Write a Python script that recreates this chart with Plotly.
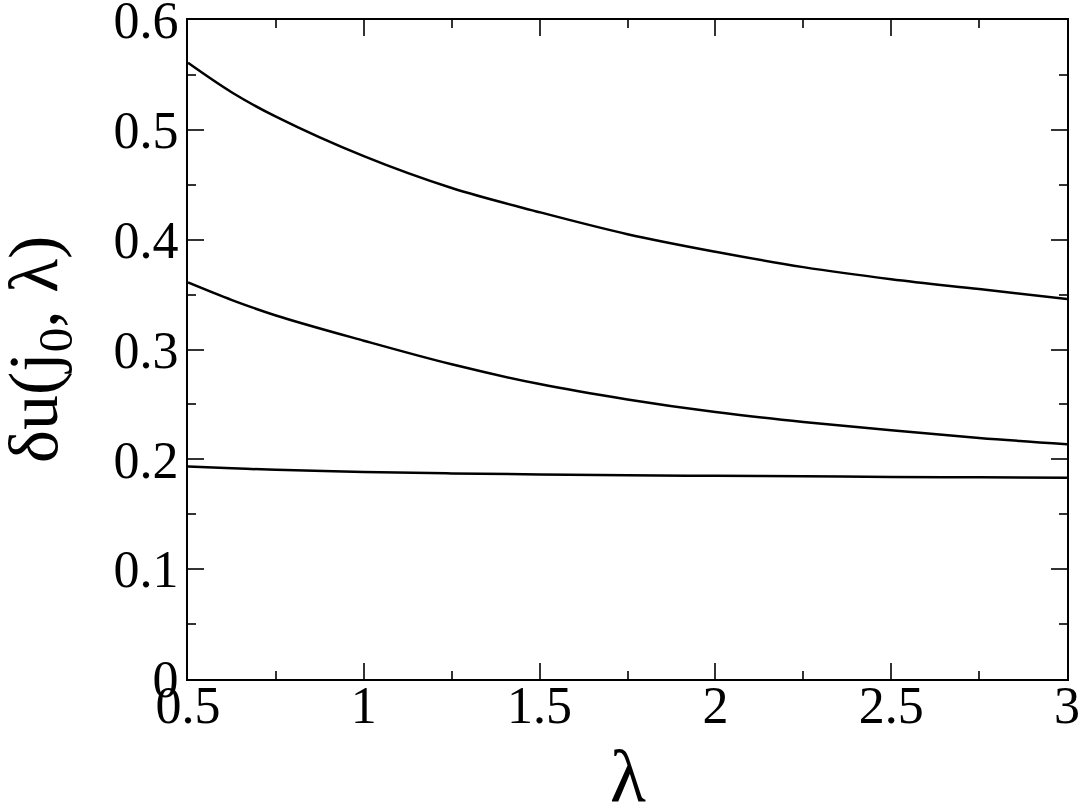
import plotly.graph_objects as go

# lambda grid and the three curves
lam = [0.5, 0.625, 0.75, 1.0, 1.25, 1.5, 1.75, 2.0, 2.25, 2.5, 2.75, 3.0]
du_top = [0.561, 0.534, 0.512, 0.476, 0.447, 0.425, 0.405, 0.389, 0.375, 0.364, 0.355, 0.346]
du_mid = [0.361, 0.345, 0.331, 0.308, 0.2865, 0.2685, 0.2545, 0.243, 0.234, 0.2265, 0.2195, 0.2137]
du_low = [0.1934, 0.1918, 0.1905, 0.1885, 0.1872, 0.1862, 0.1855, 0.1850, 0.1845, 0.1840, 0.1836, 0.1832]

x_ticks = [0.5, 1, 1.5, 2, 2.5, 3]
x_ticklabels = ["0.5", "1", "1.5", "2", "2.5", "3"]
y_ticks = [0, 0.1, 0.2, 0.3, 0.4, 0.5, 0.6]
y_ticklabels = ["0", "0.1", "0.2", "0.3", "0.4", "0.5", "0.6"]

font_family = "Liberation Serif, Times New Roman, serif"

fig = go.Figure()
for ys in (du_top, du_mid, du_low):
    fig.add_trace(go.Scatter(
        x=lam, y=ys, mode="lines", line_shape="spline",
        line=dict(color="black", width=2.5), showlegend=False,
    ))

axis_style = dict(
    showgrid=False, zeroline=False, automargin=False,
    showline=True, linecolor="black", linewidth=2, mirror="ticks",
    ticks="inside", ticklen=16, tickwidth=2, tickcolor="#333",
    tickfont=dict(family=font_family, size=52, color="black"),
    ticklabeloverflow="allow",
)

fig.update_xaxes(
    range=[0.5, 3], tickvals=x_ticks, ticktext=x_ticklabels,
    minor=dict(dtick=0.25, ticks="inside", ticklen=8, tickwidth=2, tickcolor="#333"),
    ticklabelstandoff=-20,
    **axis_style,
)
fig.update_yaxes(
    range=[0, 0.6], tickvals=y_ticks, ticktext=y_ticklabels,
    minor=dict(dtick=0.05, ticks="inside", ticklen=8, tickwidth=2, tickcolor="#333"),
    ticklabelstandoff=-3,
    **axis_style,
)

# axis titles placed as annotations so they sit where the reference has them
fig.add_annotation(
    text="λ", xref="paper", yref="paper", x=0.5, y=-0.147,
    xanchor="center", yanchor="middle", showarrow=False,
    font=dict(family=font_family, size=74, color="black"),
)
fig.add_annotation(
    text="δu(j<sub>0</sub>, λ)", xref="paper", yref="paper", x=-0.170, y=0.5,
    xanchor="center", yanchor="middle", textangle=-90, showarrow=False,
    font=dict(family=font_family, size=70, color="black"),
)

fig.update_layout(
    width=1081, height=806,
    margin=dict(l=188, r=14, t=20, b=127),
    paper_bgcolor="white", plot_bgcolor="white",
    font=dict(family=font_family, color="black"),
)

# drop the default page margin so the figure sits at the window's corner
fig.write_html(
    "out.html",
    config={"displayModeBar": False},
    post_script="document.body.style.margin='0';document.body.style.overflow='hidden';",
)
